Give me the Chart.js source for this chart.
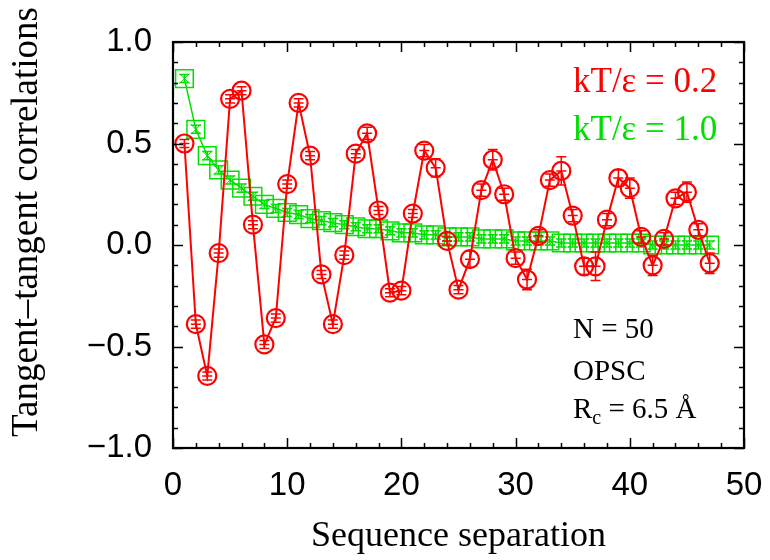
<!DOCTYPE html>
<html>
<head>
<meta charset="utf-8">
<script src="https://cdn.jsdelivr.net/npm/chart.js@4.4.0/dist/chart.umd.min.js"></script>
<style>
  html, body { margin: 0; padding: 0; background: #fff; }
  #wrap { width: 770px; height: 560px; }
</style>
</head>
<body>
<div id="wrap"><canvas id="corrChart" width="770" height="560"></canvas></div>
<script>
// sequence separation along the chain
const separation = [1, 2, 3, 4, 5, 6, 7, 8, 9, 10, 11, 12, 13, 14, 15, 16, 17, 18, 19, 20,
    21, 22, 23, 24, 25, 26, 27, 28, 29, 30, 31, 32, 33, 34, 35, 36, 37, 38, 39, 40,
    41, 42, 43, 44, 45, 46, 47];

// kT/eps = 0.2 (helical, oscillating)
const corrLowT = [0.50, -0.39, -0.645, -0.04, 0.72, 0.76, 0.10, -0.49, -0.36, 0.30,
    0.70, 0.44, -0.145, -0.39, -0.05, 0.45, 0.55, 0.17, -0.235, -0.225,
    0.155, 0.465, 0.38, 0.02, -0.22, -0.07, 0.27, 0.42, 0.25, -0.065,
    -0.17, 0.045, 0.32, 0.365, 0.145, -0.105, -0.105, 0.125, 0.33, 0.28,
    0.04, -0.10, 0.03, 0.23, 0.26, 0.075, -0.09];
const errLowT = [0.02, 0.02, 0.02, 0.02, 0.02, 0.02, 0.02, 0.02, 0.02, 0.02,
    0.02, 0.02, 0.02, 0.02, 0.02, 0.02, 0.03, 0.02, 0.02, 0.02,
    0.02, 0.03, 0.045, 0.02, 0.02, 0.04, 0.03, 0.05, 0.03, 0.03,
    0.05, 0.03, 0.03, 0.07, 0.03, 0.04, 0.07, 0.03, 0.04, 0.05,
    0.03, 0.05, 0.03, 0.03, 0.05, 0.03, 0.05];

// kT/eps = 1.0 (coil, monotone decay)
const corrHighT = [0.82, 0.57, 0.44, 0.37, 0.32, 0.28, 0.24, 0.20, 0.18, 0.16,
    0.15, 0.13, 0.12, 0.11, 0.10, 0.09, 0.08, 0.08, 0.07, 0.06,
    0.06, 0.05, 0.05, 0.04, 0.04, 0.04, 0.03, 0.03, 0.03, 0.02,
    0.02, 0.02, 0.02, 0.01, 0.01, 0.01, 0.01, 0.01, 0.01, 0.01,
    0.01, 0.00, 0.00, 0.00, 0.00, 0.00, 0.00];
const errHighT = [0.02, 0.02, 0.02, 0.02, 0.02, 0.02, 0.02, 0.02, 0.02, 0.02,
    0.02, 0.02, 0.02, 0.02, 0.02, 0.02, 0.02, 0.02, 0.02, 0.02,
    0.02, 0.02, 0.02, 0.02, 0.02, 0.02, 0.02, 0.02, 0.02, 0.02,
    0.02, 0.02, 0.02, 0.02, 0.02, 0.02, 0.02, 0.02, 0.02, 0.02,
    0.02, 0.02, 0.02, 0.02, 0.02, 0.02, 0.02];

const xTicks = [0, 10, 20, 30, 40, 50];
const yTicks = [-1.0, -0.5, 0.0, 0.5, 1.0];

const RED = '#ff0000';
const GREEN = '#00e000';
const SERIF = '"Liberation Serif", "Times New Roman", serif';
const SANS = '"Liberation Sans", Arial, sans-serif';

function toPoints(ys) {
    return separation.map((x, i) => ({ x: x, y: ys[i] }));
}

// error bars are drawn right after their own dataset, so stacking order is kept
const errorBars = {
    id: 'errorBars',
    afterDatasetDraw(chart, args) {
        const ds = chart.data.datasets[args.index];
        if (!ds.errors) return;
        const ctx = chart.ctx;
        const xs = chart.scales.x, ys = chart.scales.y;
        ctx.save();
        ctx.strokeStyle = ds.borderColor;
        ctx.lineWidth = 1.5;
        ds.data.forEach((p, i) => {
            const px = xs.getPixelForValue(p.x);
            const py = ys.getPixelForValue(p.y);
            const top = ys.getPixelForValue(p.y + ds.errors[i]);
            const bot = ys.getPixelForValue(p.y - ds.errors[i]);
            const cap = ds.capWidth;
            ctx.beginPath();
            ctx.moveTo(px, top); ctx.lineTo(px, bot);
            ctx.moveTo(px - cap, top); ctx.lineTo(px + cap, top);
            ctx.moveTo(px - cap, bot); ctx.lineTo(px + cap, bot);
            if (ds.xBar) {
                ctx.moveTo(px - ds.xBar, py); ctx.lineTo(px + ds.xBar, py);
            }
            ctx.stroke();
        });
        ctx.restore();
    }
};

// gnuplot-like frame with inward ticks on all four sides, plus the text labels
const frameAndText = {
    id: 'frameAndText',
    afterDraw(chart) {
        const ctx = chart.ctx;
        const a = chart.chartArea;
        const xs = chart.scales.x, ys = chart.scales.y;
        ctx.save();
        ctx.strokeStyle = '#000';
        ctx.lineWidth = 1.5;
        ctx.beginPath();
        for (let v = 0; v <= 50; v += 2) {
            const px = Math.round(xs.getPixelForValue(v)) + 0.5;
            const len = v % 10 === 0 ? 10 : 5;
            ctx.moveTo(px, a.bottom); ctx.lineTo(px, a.bottom - len);
            ctx.moveTo(px, a.top); ctx.lineTo(px, a.top + len);
        }
        for (let k = -10; k <= 10; k++) {
            const py = Math.round(ys.getPixelForValue(k / 10)) + 0.5;
            const len = k % 5 === 0 ? 10 : 5;
            ctx.moveTo(a.left, py); ctx.lineTo(a.left + len, py);
            ctx.moveTo(a.right, py); ctx.lineTo(a.right - len, py);
        }
        ctx.stroke();
        ctx.lineWidth = 2.2;
        ctx.strokeRect(a.left, a.top, a.right - a.left, a.bottom - a.top);

        // series labels
        ctx.textAlign = 'left';
        ctx.textBaseline = 'alphabetic';
        ctx.font = '35px ' + SERIF;
        ctx.fillStyle = RED;
        ctx.fillText('kT/ε = 0.2', 573, 92);
        ctx.fillStyle = GREEN;
        ctx.fillText('kT/ε = 1.0', 573, 140);

        // system info
        ctx.fillStyle = '#000';
        ctx.font = '29px ' + SERIF;
        ctx.fillText('N = 50', 573, 338);
        ctx.fillText('OPSC', 573, 380);
        ctx.fillText('R', 573, 418);
        let w = ctx.measureText('R').width;
        ctx.font = '20px ' + SERIF;
        ctx.fillText('c', 573 + w, 424);
        w += ctx.measureText('c').width;
        ctx.font = '29px ' + SERIF;
        ctx.fillText(' = 6.5 Å', 573 + w, 418);

        // y axis title
        ctx.font = '37px ' + SERIF;
        ctx.translate(27, 222);
        ctx.rotate(-Math.PI / 2);
        ctx.textAlign = 'center';
        ctx.textBaseline = 'middle';
        ctx.fillText('Tangent–tangent correlations', 0, 0);
        ctx.restore();
    }
};

const ctx = document.getElementById('corrChart').getContext('2d');
const corrChart = new Chart(ctx, {
    type: 'line',
    data: {
        datasets: [{
            label: 'kT/ε = 0.2',
            data: toPoints(corrLowT),
            errors: errLowT,
            capWidth: 5,
            xBar: 5,
            borderColor: RED,
            borderWidth: 2,
            backgroundColor: 'rgba(0,0,0,0)',
            pointStyle: 'circle',
            pointRadius: 9,
            pointBorderWidth: 2.2,
            pointBorderColor: RED,
            tension: 0
        }, {
            label: 'kT/ε = 1.0',
            data: toPoints(corrHighT),
            errors: errHighT,
            capWidth: 5,
            borderColor: GREEN,
            borderWidth: 1.5,
            backgroundColor: 'rgba(0,0,0,0)',
            pointStyle: 'rect',
            pointRadius: 12.5,
            pointBorderWidth: 1.5,
            pointBorderColor: GREEN,
            tension: 0
        }, {
            label: 'kT/ε = 1.0 marks',
            data: toPoints(corrHighT),
            showLine: false,
            borderColor: GREEN,
            backgroundColor: 'rgba(0,0,0,0)',
            pointStyle: 'crossRot',
            pointRadius: 7,
            pointBorderWidth: 1,
            pointBorderColor: GREEN
        }]
    },
    options: {
        responsive: false,
        animation: false,
        layout: { padding: { top: 42, right: 26, left: 0, bottom: 0 } },
        plugins: {
            legend: { display: false },
            tooltip: { enabled: false }
        },
        scales: {
            x: {
                type: 'linear',
                min: 0,
                max: 50,
                grid: { display: false, drawTicks: false },
                border: { display: false },
                afterBuildTicks: s => { s.ticks = xTicks.map(v => ({ value: v })); },
                afterFit: s => { s.height = 112; s.paddingLeft = 0; s.paddingRight = 0; },
                ticks: {
                    padding: 18,
                    color: '#000',
                    font: { family: SANS, size: 33 },
                    maxRotation: 0,
                    callback: v => String(v)
                },
                title: {
                    display: true,
                    text: 'Sequence separation',
                    color: '#000',
                    font: { family: SERIF, size: 36 },
                    padding: { top: 0, bottom: 2 }
                }
            },
            y: {
                type: 'linear',
                min: -1,
                max: 1,
                grid: { display: false, drawTicks: false },
                border: { display: false },
                afterBuildTicks: s => { s.ticks = yTicks.map(v => ({ value: v })); },
                afterFit: s => { s.width = 173; s.paddingTop = 0; s.paddingBottom = 0; },
                ticks: {
                    padding: 21,
                    color: '#000',
                    font: { family: SANS, size: 33 },
                    callback: v => (v < 0 ? '−' : '') + Math.abs(v).toFixed(1)
                }
            }
        }
    },
    plugins: [errorBars, frameAndText]
});
</script>
</body>
</html>
